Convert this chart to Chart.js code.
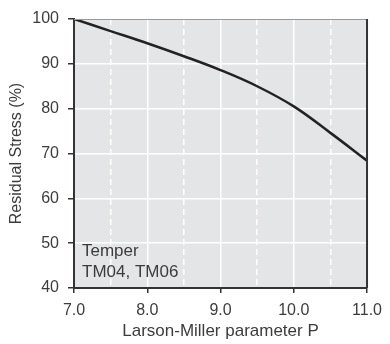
<!DOCTYPE html>
<html>
<head>
<meta charset="utf-8">
<script src="https://cdn.jsdelivr.net/npm/chart.js@4/dist/chart.umd.min.js"></script>
<style>
  html, body { margin: 0; padding: 0; background: #fff; }
  #wrap { width: 390px; height: 344px; }
</style>
</head>
<body>
<div id="wrap"><canvas id="lmChart"></canvas></div>
<script>
// Larson-Miller parameter P and residual stress (%)
const pValues = [7.0, 7.5, 8.0, 8.5, 9.0, 9.5, 10.0, 10.5, 11.0];
const residualStress = [100, 97.3, 94.6, 91.7, 88.6, 85.0, 80.5, 74.6, 68.4];
const xMajorTicks = [7, 8, 9, 10, 11];
const xMinorTicks = [7.5, 8.5, 9.5, 10.5];
const yTicks = [40, 50, 60, 70, 80, 90, 100];
const noteLines = ['Temper', 'TM04, TM06'];

const textColor = '#3c3c3c';
const fontFamily = '"Liberation Sans", Arial, sans-serif';

// grey plot background, frame and the note text
const framePlugin = {
    id: 'frame',
    beforeDraw(chart) {
        const { ctx, chartArea: a } = chart;
        ctx.save();
        ctx.fillStyle = '#e4e5e7';
        ctx.fillRect(a.left, a.top, a.right - a.left, a.bottom - a.top);
        ctx.restore();
    },
    afterDraw(chart) {
        const { ctx, chartArea: a } = chart;
        ctx.save();
        ctx.strokeStyle = '#9a9a9a';
        ctx.lineWidth = 1;
        ctx.beginPath();
        ctx.moveTo(a.left, a.top + 0.5);
        ctx.lineTo(a.right, a.top + 0.5);
        ctx.stroke();
        ctx.strokeStyle = '#333';
        ctx.lineWidth = 2;
        ctx.beginPath();
        ctx.moveTo(a.right, a.top);
        ctx.lineTo(a.right, a.bottom);
        ctx.stroke();
        ctx.fillStyle = textColor;
        ctx.font = '17px ' + fontFamily;
        ctx.textBaseline = 'alphabetic';
        ctx.fillText(noteLines[0], a.left + 8, 256);
        ctx.fillText(noteLines[1], a.left + 8, 277);
        ctx.restore();
    }
};

new Chart(document.getElementById('lmChart').getContext('2d'), {
    type: 'line',
    data: {
        datasets: [{
            data: pValues.map((p, i) => ({ x: p, y: residualStress[i] })),
            borderColor: '#222',
            borderWidth: 2.5,
            pointRadius: 0,
            tension: 0.4,
            fill: false
        }]
    },
    options: {
        responsive: true,
        maintainAspectRatio: false,
        animation: false,
        layout: { padding: { top: 19, right: 20, left: 0, bottom: 0 } },
        plugins: {
            legend: { display: false },
            tooltip: { enabled: false }
        },
        scales: {
            x: {
                type: 'linear',
                min: 7,
                max: 11,
                afterBuildTicks: s => { s.ticks = xMajorTicks.map(v => ({ value: v })); },
                afterFit: s => { s.height = 56; },
                ticks: {
                    callback: v => v.toFixed(1),
                    color: textColor,
                    font: { family: fontFamily, size: 16 },
                    padding: 8,
                    maxRotation: 0
                },
                grid: {
                    color: '#ffffff',
                    lineWidth: 1.5,
                    tickLength: 5,
                    tickColor: '#333',
                    tickWidth: 1.5
                },
                border: { color: '#333', width: 2 },
                title: {
                    display: true,
                    text: 'Larson-Miller parameter P',
                    color: textColor,
                    font: { family: fontFamily, size: 17 },
                    padding: { top: 2, bottom: 2 }
                }
            },
            xMinor: {
                type: 'linear',
                position: 'bottom',
                min: 7,
                max: 11,
                afterBuildTicks: s => { s.ticks = xMinorTicks.map(v => ({ value: v })); },
                afterFit: s => { s.height = 0; },
                ticks: { display: false },
                grid: { color: '#ffffff', lineWidth: 1.5, drawTicks: false },
                border: { display: false, dash: [6, 4] }
            },
            y: {
                min: 40,
                max: 100,
                afterBuildTicks: s => { s.ticks = yTicks.map(v => ({ value: v })); },
                afterFit: s => { s.width = 74; },
                ticks: {
                    color: textColor,
                    font: { family: fontFamily, size: 16 },
                    padding: 9
                },
                grid: {
                    color: '#ffffff',
                    lineWidth: 1.5,
                    tickLength: 6,
                    tickColor: '#333',
                    tickWidth: 1.5
                },
                border: { color: '#333', width: 2 },
                title: {
                    display: true,
                    text: 'Residual Stress (%)',
                    color: textColor,
                    font: { family: fontFamily, size: 16 },
                    padding: { top: 7, bottom: 0 }
                }
            }
        }
    },
    plugins: [framePlugin]
});
</script>
</body>
</html>
